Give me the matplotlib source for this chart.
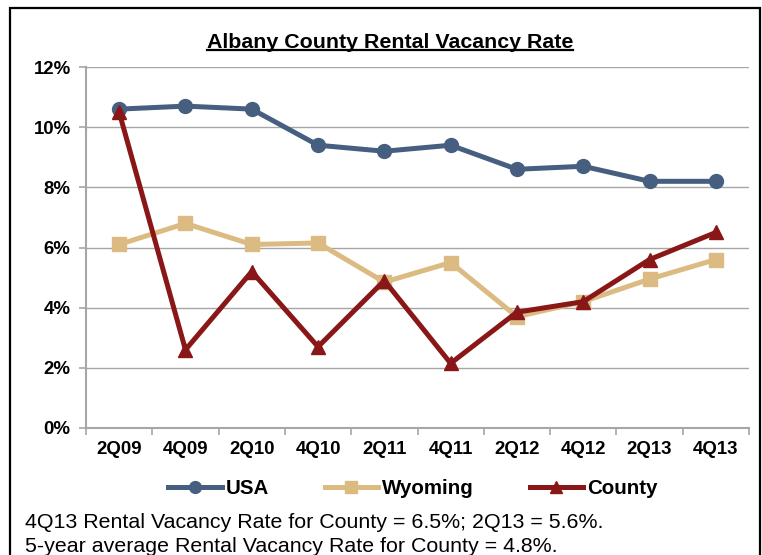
"""
Albany County rental vacancy rate vs. Wyoming and USA, 2Q09-4Q13.
"""

import matplotlib

matplotlib.use("Agg")
import matplotlib.pyplot as plt
import numpy as np
from matplotlib.lines import Line2D
from matplotlib.patches import Rectangle
from matplotlib.ticker import FuncFormatter, MultipleLocator

plt.rcParams["font.family"] = ["Liberation Sans", "DejaVu Sans"]

QUARTERS = ["2Q09", "4Q09", "2Q10", "4Q10", "2Q11", "4Q11", "2Q12", "4Q12", "2Q13", "4Q13"]
USA = [10.6, 10.7, 10.6, 9.4, 9.2, 9.4, 8.6, 8.7, 8.2, 8.2]
WYOMING = [6.1, 6.8, 6.1, 6.15, 4.85, 5.5, 3.7, 4.2, 4.95, 5.6]
COUNTY = [10.5, 2.6, 5.2, 2.7, 4.9, 2.15, 3.85, 4.2, 5.6, 6.5]

TITLE = "Albany County Rental Vacancy Rate"
NOTE_1 = "4Q13 Rental Vacancy Rate for County = 6.5%; 2Q13 = 5.6%."
NOTE_2 = "5-year average Rental Vacancy Rate for County = 4.8%."

COLOR_USA = "#465f80"
COLOR_WYO = "#dcbb82"
COLOR_COUNTY = "#8a1717"
COLOR_GRID = "#a6a6a6"

W, H = 762, 555
fig = plt.figure(figsize=(W / 100, H / 100), dpi=100)
ax = fig.add_axes([86 / W, 1 - 428 / H, (749 - 86) / W, (428 - 67) / H])

x = np.arange(len(QUARTERS))
ax.plot(x, USA, color=COLOR_USA, lw=3.6, marker="o", ms=10, label="USA", zorder=3)
ax.plot(x, WYOMING, color=COLOR_WYO, lw=3.6, marker="s", ms=9.5, label="Wyoming", zorder=3)
ax.plot(x, COUNTY, color=COLOR_COUNTY, lw=3.6, marker="^", ms=10.5, label="County", zorder=4)

ax.set_xlim(-0.5, len(QUARTERS) - 0.5)
ax.set_ylim(0, 12)
ax.yaxis.set_major_locator(MultipleLocator(2))
ax.yaxis.set_major_formatter(FuncFormatter(lambda v, _: f"{v:.0f}%"))
ax.grid(axis="y", color=COLOR_GRID, lw=1.0, zorder=0)
ax.set_axisbelow(True)

# categories labelled at centers, tick marks at boundaries
ax.set_xticks(x)
ax.set_xticklabels(QUARTERS, fontsize=13.4, fontweight="bold")
ax.set_xticks(np.arange(len(QUARTERS) + 1) - 0.5, minor=True)
ax.tick_params(axis="x", which="major", length=0, pad=9)
ax.tick_params(axis="x", which="minor", length=5, color=COLOR_GRID, width=1.2)
ax.tick_params(axis="y", length=5, color=COLOR_GRID, width=1.2, pad=6)
for lbl in ax.get_yticklabels():
    lbl.set_fontsize(13.4)
    lbl.set_fontweight("bold")

for side in ("top", "right"):
    ax.spines[side].set_visible(False)
for side in ("left", "bottom"):
    ax.spines[side].set_color(COLOR_GRID)
    ax.spines[side].set_linewidth(1.5)

ax.legend(
    loc="center",
    bbox_to_anchor=(413 / W, 1 - 489 / H),
    bbox_transform=fig.transFigure,
    ncol=3,
    frameon=False,
    prop={"size": 14.8, "weight": "bold"},
    handlelength=2.6,
    handletextpad=0.2,
    columnspacing=2.7,
    markerscale=0.85,
)

# outer frame (bottom edge falls off the image)
fig.patches.append(
    Rectangle((10 / W, -0.05), 750 / W, 1.05 - 8 / H, transform=fig.transFigure,
              fill=False, edgecolor="black", lw=1.6)
)

title = fig.text(390 / W, 1 - 43 / H, TITLE, ha="center", va="center",
                 fontsize=15.4, fontweight="bold")
fig.canvas.draw()
bb = title.get_window_extent().transformed(fig.transFigure.inverted())
uy = bb.y0 + 0.12 * (bb.y1 - bb.y0)
fig.lines.append(Line2D([bb.x0, bb.x1], [uy, uy], transform=fig.transFigure,
                        color="black", lw=1.6))

fig.text(25 / W, 1 - 523 / H, NOTE_1, ha="left", va="center", fontsize=15.4)
fig.text(25 / W, 1 - 546 / H, NOTE_2, ha="left", va="center", fontsize=15.4)

fig.savefig("out.png", dpi=100)
